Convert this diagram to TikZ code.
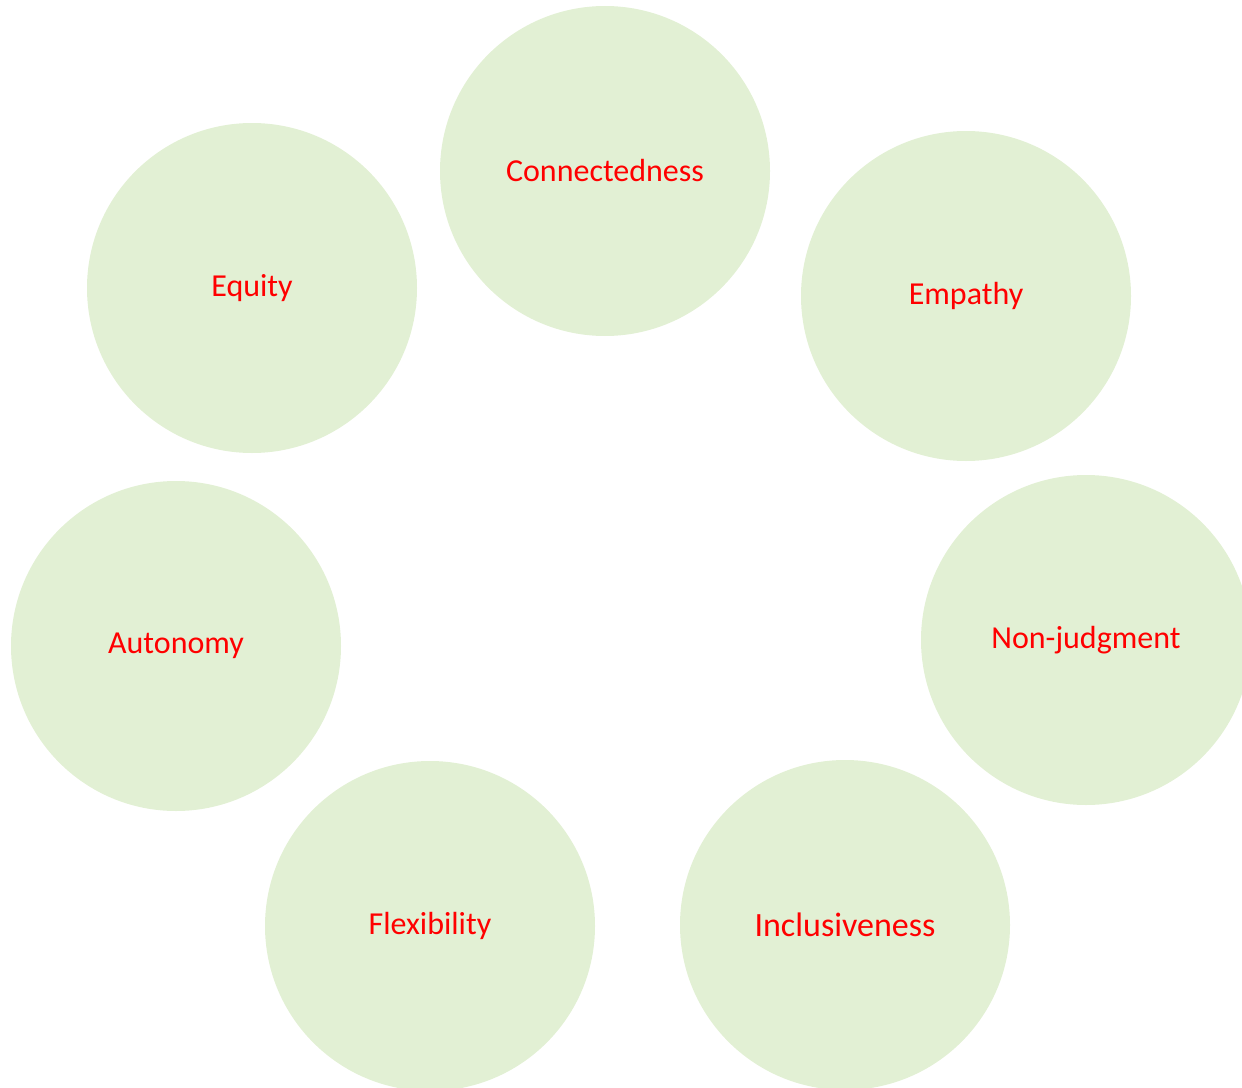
\documentclass[tikz,border=0pt]{standalone}
\usepackage{fontspec}
\setmainfont{Carlito}
\definecolor{bubble}{HTML}{E2F0D4}
\definecolor{lbl}{HTML}{FF0000}
\begin{document}
\begin{tikzpicture}[x=0.75pt,y=-0.75pt,
  bub/.style={circle,fill=bubble,draw=none,inner sep=0pt,minimum size=247.5pt,text=lbl,font=\fontsize{24}{28}\selectfont},
  bigbub/.style={bub,font=\fontsize{25.5}{30}\selectfont}]
\useasboundingbox (0,0) rectangle (1242,1088);
\begin{scope}
\clip (0,0) rectangle (1242,1088);
\node[bub] (conn) at (605,171) {Connectedness};
\node[bub] (equity) at (252,288) {Equity};
\node[bub] (emp) at (966,296) {Empathy};
\node[bub] (auto) at (176,646) {Autonomy};
\node[bub] (nonj) at (1086,640) {Non-judgment};
\node[bub] (flex) at (430,926) {Flexibility};
\node[bigbub] (incl) at (845,925) {Inclusiveness};
\end{scope}
\end{tikzpicture}
\end{document}
